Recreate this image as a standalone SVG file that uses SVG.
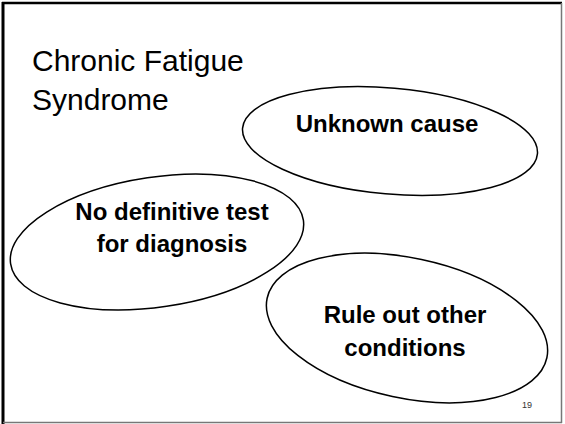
<svg xmlns="http://www.w3.org/2000/svg" width="565" height="424" viewBox="0 0 565 424">
<style>
.bg{fill:#ffffff}
.ell{fill:#ffffff;stroke:#000000;stroke-width:1.5}
.title{font-family:"Liberation Sans",Arial,sans-serif;font-size:30px;fill:#000000}
.lbl{font-family:"Liberation Sans",Arial,sans-serif;font-size:24px;font-weight:bold;fill:#000000;text-anchor:middle}
.num{font-family:"Liberation Sans",Arial,sans-serif;font-size:9px;fill:#333333;text-anchor:middle}
</style>
<rect class="bg" x="0" y="0" width="565" height="424"/>
<g id="frame">
<line x1="3" y1="2" x2="3" y2="424" stroke="#000" stroke-width="3"/>
<line x1="2" y1="3" x2="562" y2="3" stroke="#000" stroke-width="2.5"/>
<line x1="561.5" y1="3" x2="561.5" y2="423" stroke="#777" stroke-width="1.5"/>
<line x1="3" y1="422.5" x2="562" y2="422.5" stroke="#777" stroke-width="1.5"/>
</g>
<g id="title">
<text class="title" x="32" y="71">Chronic Fatigue</text>
<text class="title" x="32" y="110">Syndrome</text>
</g>
<g id="node-unknown-cause">
<ellipse class="ell" cx="390" cy="141" rx="148" ry="53" transform="rotate(5 390 141)"/>
<text class="lbl" x="387" y="132">Unknown cause</text>
</g>
<g id="node-no-test">
<ellipse class="ell" cx="157" cy="242" rx="148" ry="65" transform="rotate(-8.5 157 242)"/>
<text class="lbl" x="172" y="220">No definitive test</text>
<text class="lbl" x="172" y="252">for diagnosis</text>
</g>
<g id="node-rule-out">
<ellipse class="ell" cx="407" cy="328" rx="143" ry="70" transform="rotate(12 407 328)"/>
<text class="lbl" x="405" y="323">Rule out other</text>
<text class="lbl" x="405" y="356">conditions</text>
</g>
<g id="connectors"></g>
<g id="page-number">
<text class="num" x="527" y="408">19</text>
</g>
</svg>
